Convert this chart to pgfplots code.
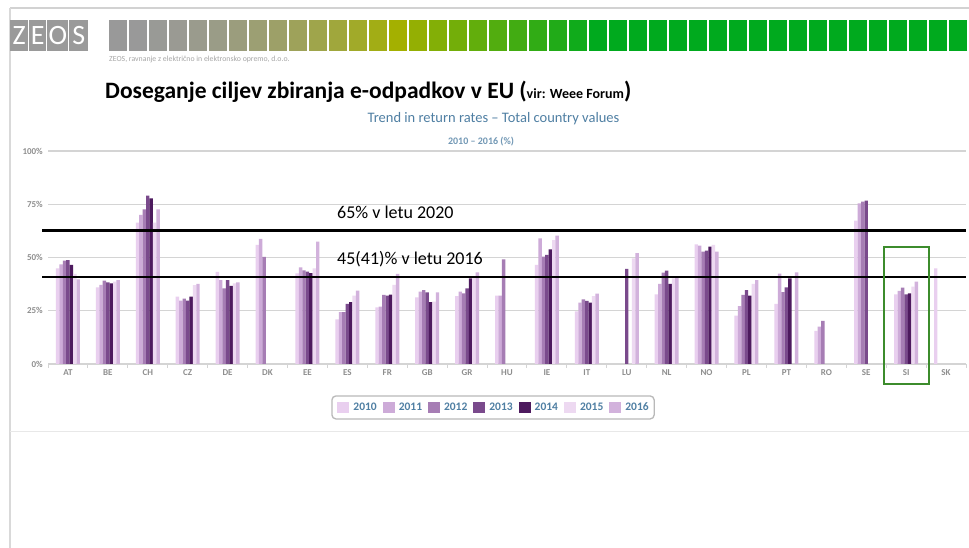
\documentclass[border=0pt]{standalone}
\usepackage{fontspec}
\setmainfont{Carlito}
\usepackage{pgfplots}
\usepackage{pgfplotstable}
\pgfplotsset{compat=1.18}

\definecolor{c2010}{HTML}{E9CFEF}
\definecolor{c2011}{HTML}{CDABD8}
\definecolor{c2012}{HTML}{A67DB4}
\definecolor{c2013}{HTML}{7A4A8C}
\definecolor{c2014}{HTML}{4D1A5E}
\definecolor{c2015}{HTML}{EDD9F1}
\definecolor{c2016}{HTML}{D2B2DC}
\definecolor{tickgray}{HTML}{8E8E8E}
\definecolor{gridgray}{HTML}{D4D4D4}
\definecolor{subblue}{HTML}{4F7FA3}
\definecolor{boxgreen}{HTML}{3C8C2C}
\definecolor{logogray}{HTML}{9A9A9A}
\definecolor{hdgray}{HTML}{999999}
\definecolor{hdolive}{HTML}{A4B000}
\definecolor{hdgreen}{HTML}{00AA1E}

% return rates in %, columns a..g = 2010..2016
\pgfplotstableread{
x  a    b    c    d    e    f    g
0  44.9 46.8 48.5 48.8 46.5 42.3 39.7
1  36.0 37.1 39.1 38.3 37.9 38.7 39.4
2  66.4 70.0 72.6 79.0 77.8 66.4 72.6
3  31.6 29.7 30.7 29.7 31.6 37.0 37.6
4  43.3 39.4 35.5 39.4 36.7 37.9 38.3
5  55.9 58.7 50.3 nan  nan  nan  nan
6  42.5 45.4 43.9 43.4 42.7 44.9 57.4
7  21.0 24.3 24.3 28.2 29.0 32.1 34.4
8  26.6 26.9 32.4 32.1 32.6 37.1 42.3
9  31.3 34.0 34.7 33.6 29.0 29.3 33.6
10 31.9 34.0 33.2 35.5 40.2 41.0 43.0
11 32.1 32.1 49.1 nan  nan  nan  nan
12 46.5 59.0 50.4 51.2 53.8 58.2 60.3
13 24.7 28.8 30.3 29.6 28.8 31.9 33.0
14 nan  nan  nan  44.6 nan  49.6 52.0
15 32.7 37.6 42.9 43.8 37.6 40.2 41.0
16 56.2 55.6 52.7 53.2 55.1 55.9 52.7
17 22.7 27.2 32.4 34.7 32.1 37.6 39.4
18 28.2 42.4 33.8 36.0 40.2 nan  43.0
19 15.6 17.5 20.3 nan  nan  nan  nan
20 67.3 75.4 76.2 76.7 nan  nan  nan
21 32.7 34.3 35.8 32.7 33.2 36.3 38.7
22 44.9 nan  nan  nan  nan  nan  nan
}\rates

\pgfplotsset{sq/.style={legend image code/.code={\fill[##1, sharp corners] (0bp,-5.5bp) rectangle (12bp,5.5bp);}}}

\begin{document}
\begin{tikzpicture}
\fill[white] (0,0) rectangle (969bp,548bp);
\path[use as bounding box] (0,0) rectangle (969bp,548bp);

\begin{scope}[x=1bp,y=-1bp,yshift=548bp]
  % slide frame
  \draw[gray!35, line width=1.5bp] (10,8) -- (969,8);
  \draw[gray!30, line width=1.2bp] (10,8) -- (10,548);
  \draw[gray!18, line width=1bp] (10,432) -- (969,432);
  % logo
  \fill[logogray] (10,20) rectangle (28.3,50.7);
  \fill[logogray] (29.3,20) rectangle (46,50.7);
  \fill[logogray] (47.3,20) rectangle (68.3,50.7);
  \fill[logogray] (69.3,20) rectangle (88.3,50.7);
  \node[text=white, font=\fontsize{28bp}{28bp}\selectfont] at (19.2,35.5) {Z};
  \node[text=white, font=\fontsize{28bp}{28bp}\selectfont] at (37.7,35.5) {E};
  \node[text=white, font=\fontsize{28bp}{28bp}\selectfont] at (57.8,35.5) {O};
  \node[text=white, font=\fontsize{28bp}{28bp}\selectfont] at (78.8,35.5) {S};
  % header strip
  \foreach \k in {0,...,42} {
    \ifnum\k<14
      \pgfmathtruncatemacro\p{100*(\k/14)^2}
      \colorlet{hc}{hdolive!\p!hdgray}
    \else
      \pgfmathtruncatemacro\p{min(100,100*(\k-14)/10)}
      \colorlet{hc}{hdgreen!\p!hdolive}
    \fi
    \fill[hc] ({109+20*\k},20) rectangle ({126.5+20*\k},51);
  }
  \node[anchor=base west, inner sep=0pt, text=gray!70, font=\fontsize{7.8bp}{8bp}\selectfont]
    at (109,62) {ZEOS, ravnanje z električno in elektronsko opremo, d.o.o.};
  % titles
  \node[anchor=base west, inner sep=0pt, font=\bfseries\fontsize{23.5bp}{24bp}\selectfont]
    at (105,99) {Doseganje ciljev zbiranja e-odpadkov v EU (\fontsize{14bp}{14bp}\selectfont vir: Weee Forum\fontsize{23.5bp}{24bp}\selectfont)};
  \node[anchor=base, inner sep=0pt, text=subblue, font=\fontsize{14.5bp}{14.5bp}\selectfont]
    at (493.5,123) {Trend in return rates – Total country values};
  \node[anchor=base, inner sep=0pt, text=subblue!80, font=\bfseries\fontsize{10bp}{10bp}\selectfont]
    at (481,144.5) {2010 – 2016 (\%)};
\end{scope}

\begin{axis}[
  at={(48bp,184bp)}, anchor=south west,
  scale only axis, width=918bp, height=213bp,
  xmin=-0.5, xmax=22.5, ymin=0, ymax=100,
  clip=false,
  ybar=0pt, bar width=3.43bp,
  axis x line*=bottom, axis y line*=left,
  x axis line style={draw=gridgray, line width=1.3bp},
  y axis line style={draw=none},
  ymajorgrids, grid style={draw=gridgray, line width=1.3bp},
  ytick={0,25,50,75,100}, yticklabels={0\%,25\%,50\%,75\%,100\%},
  xtick={0,...,22},
  xticklabels={AT,BE,CH,CZ,DE,DK,EE,ES,FR,GB,GR,HU,IE,IT,LU,NL,NO,PL,PT,RO,SE,SI,SK},
  minor xtick={-0.5,0.5,...,22.5},
  major tick length=0pt, minor tick length=4bp,
  tick align=outside,
  minor tick style={draw=gridgray, line width=1bp},
  tick label style={font=\bfseries\fontsize{9bp}{9bp}\selectfont, text=tickgray},
  yticklabel style={anchor=east, inner sep=0pt, xshift=-5bp},
  xticklabel style={anchor=base, inner sep=0pt, yshift=-12bp},
  legend columns=7,
  legend style={at={(0.4848,-0.204)}, anchor=center, draw=gray!55, line width=1.3bp,
    rounded corners=4bp, inner xsep=5.5bp, inner ysep=6bp,
    font=\bfseries\fontsize{11.5bp}{11.5bp}\selectfont, text=subblue,
    nodes={inner sep=0pt},
    /tikz/every odd column/.append style={column sep=4bp},
    /tikz/every even column/.append style={column sep=6bp}},
]
\addplot[fill=c2010, draw=none, sq] table[x=x, y=a] {\rates};
\addplot[fill=c2011, draw=none, sq] table[x=x, y=b] {\rates};
\addplot[fill=c2012, draw=none, sq] table[x=x, y=c] {\rates};
\addplot[fill=c2013, draw=none, sq] table[x=x, y=d] {\rates};
\addplot[fill=c2014, draw=none, sq] table[x=x, y=e] {\rates};
\addplot[fill=c2015, draw=none, sq] table[x=x, y=f] {\rates};
\addplot[fill=c2016, draw=none, sq] table[x=x, y=g] {\rates};
\legend{2010,2011,2012,2013,2014,2015,2016}

% targets
\draw[black, line width=2.6bp] (axis cs:-0.65,62.8) -- (axis cs:22.5,62.8);
\draw[black, line width=2.6bp] (axis cs:-0.65,40.8) -- (axis cs:22.5,40.8);
\end{axis}

\begin{scope}[x=1bp,y=-1bp,yshift=548bp]
  \node[anchor=base west, inner sep=0pt, font=\fontsize{18bp}{18bp}\selectfont]
    at (337,219) {65\% v letu 2020};
  \node[anchor=base west, inner sep=0pt, font=\fontsize{18bp}{18bp}\selectfont]
    at (337,265) {45(41)\% v letu 2016};
  \draw[boxgreen, line width=2bp] (884,247) rectangle (929,384);
\end{scope}
\end{tikzpicture}
\end{document}
